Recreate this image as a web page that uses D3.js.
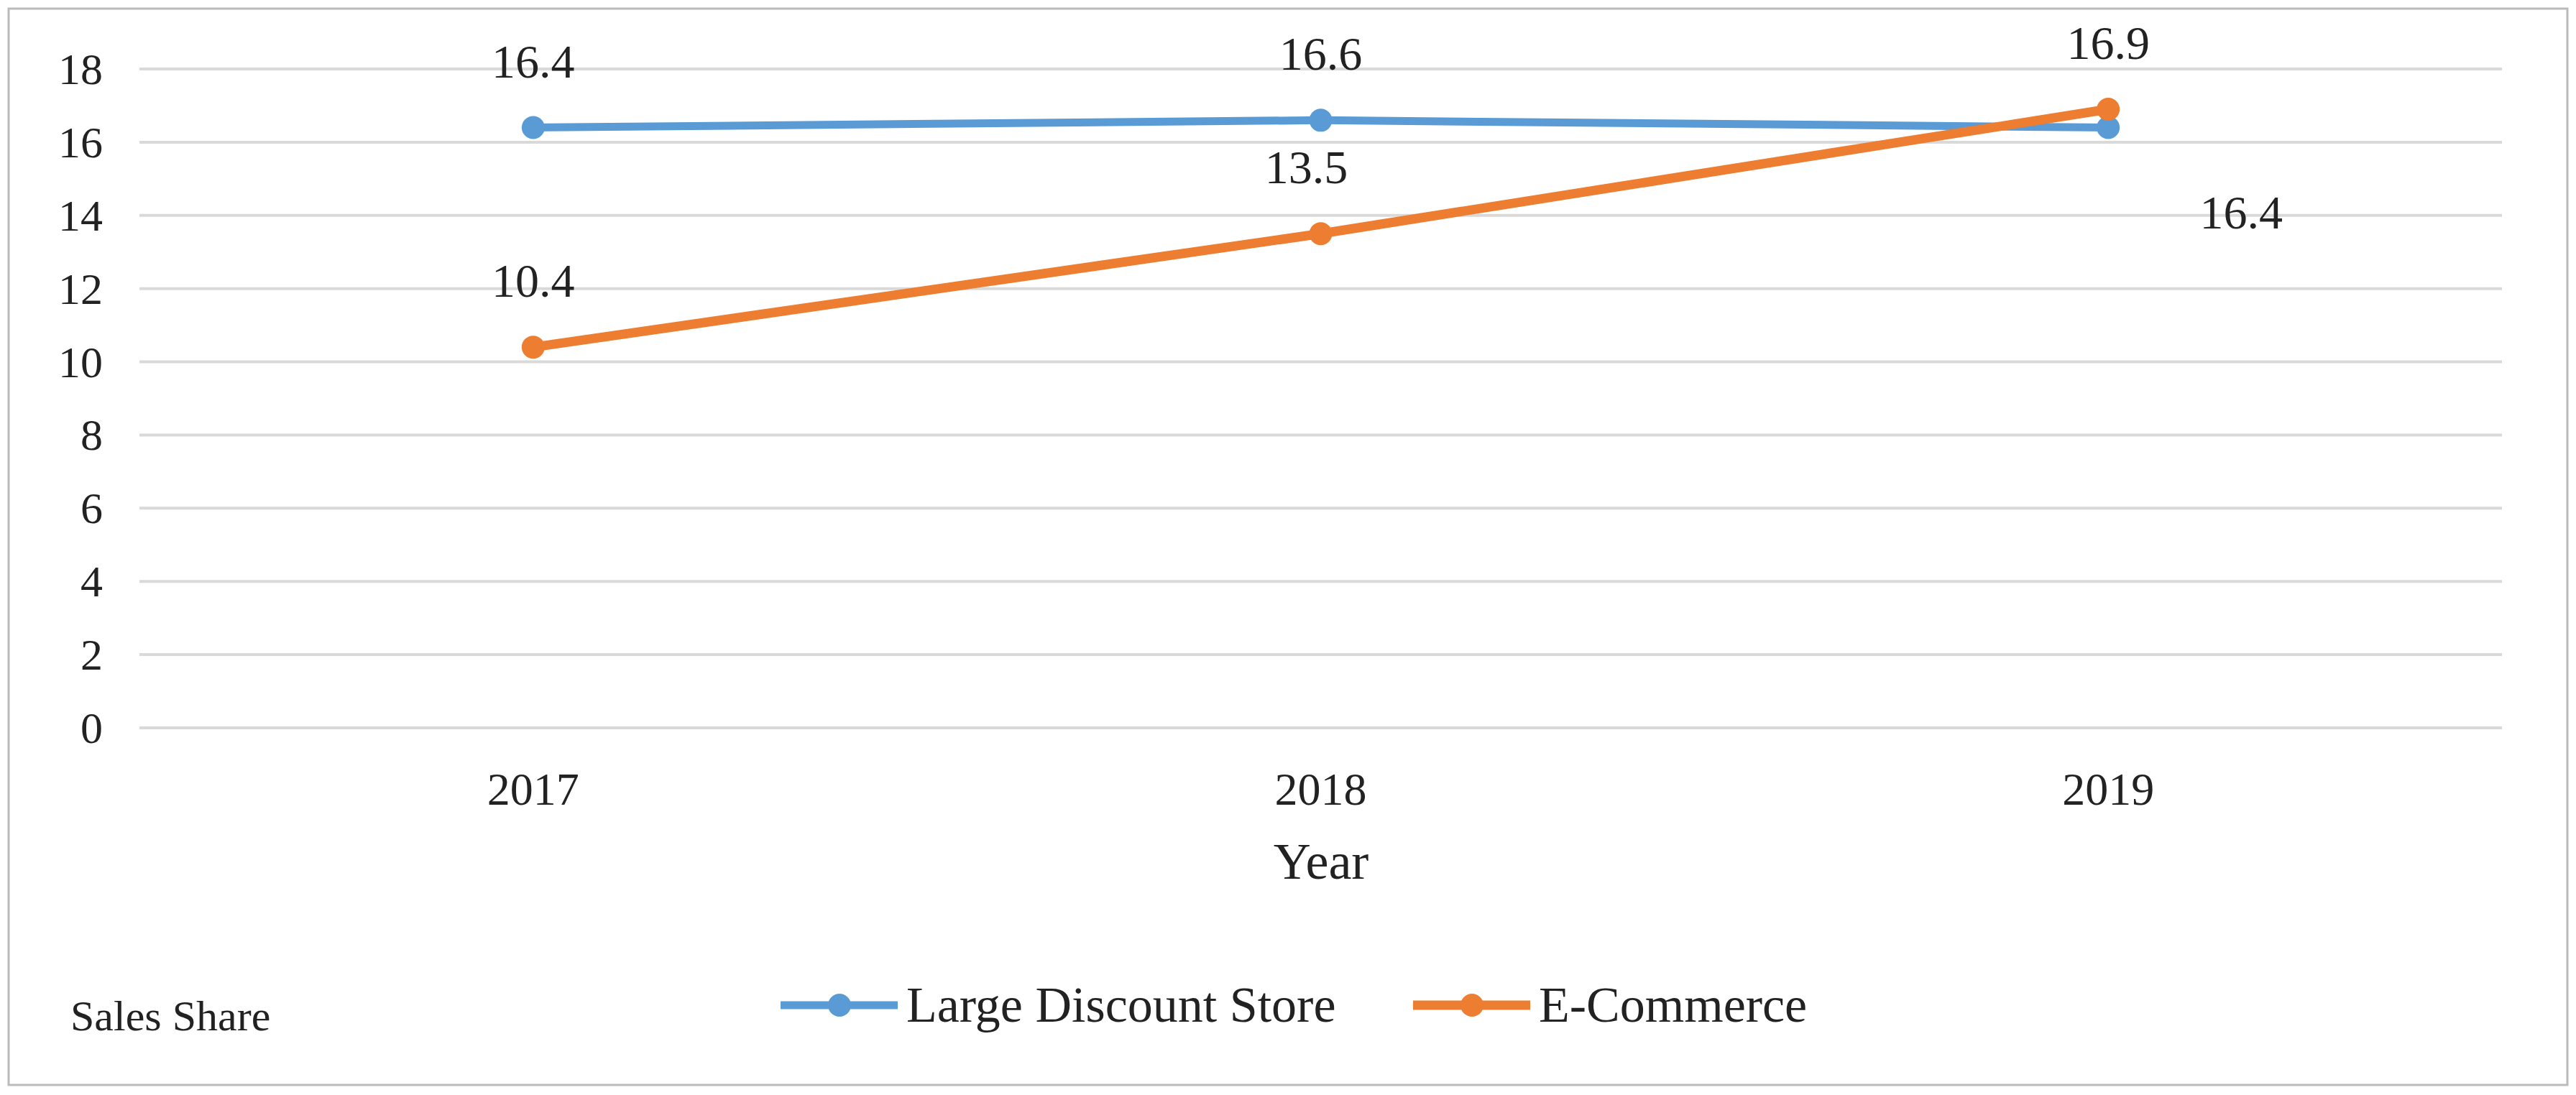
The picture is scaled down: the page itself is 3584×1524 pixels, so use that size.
<!DOCTYPE html>
<html><head><meta charset="utf-8">
<script src="https://cdn.jsdelivr.net/npm/d3@7"></script>
<style>body{margin:0;background:#fff}text{font-family:"Liberation Serif","Times New Roman",serif;fill:#222}</style>
</head><body>
<script>
const years = ["2017", "2018", "2019"];
const discount = [16.4, 16.6, 16.4];
const ecommerce = [10.4, 13.5, 16.9];
const yTicks = [0, 2, 4, 6, 8, 10, 12, 14, 16, 18];

const W = 3584, H = 1524;
const svg = d3.select("body").append("svg").attr("width", W).attr("height", H);

svg.append("rect").attr("x", 12).attr("y", 12).attr("width", W - 24).attr("height", H - 26)
    .attr("fill", "none").attr("stroke", "#bbb").attr("stroke-width", 3);

const x = d3.scaleBand().domain(years).range([194, 3481]);
const y = d3.scaleLinear().domain([0, 18]).range([1013, 96]);
const cx = d => x(d) + x.bandwidth() / 2;

// gridlines
svg.selectAll(".grid").data(yTicks).enter().append("line")
    .attr("x1", 194).attr("x2", 3481)
    .attr("y1", d => y(d)).attr("y2", d => y(d))
    .attr("stroke", "#d9d9d9").attr("stroke-width", 4);

svg.selectAll(".ytick").data(yTicks).enter().append("text")
    .text(d => d).attr("x", 143).attr("y", d => y(d) + 21)
    .attr("text-anchor", "end").attr("font-size", 62);

svg.selectAll(".xtick").data(years).enter().append("text")
    .text(d => d).attr("x", cx).attr("y", 1120)
    .attr("text-anchor", "middle").attr("font-size", 64);

svg.append("text").text("Year").attr("x", 1838).attr("y", 1223)
    .attr("text-anchor", "middle").attr("font-size", 72);

const series = [
    { name: "Large Discount Store", vals: discount, color: "#5B9BD5", w: 11 },
    { name: "E-Commerce", vals: ecommerce, color: "#ED7D31", w: 13 }
];
const line = d3.line().x((d, i) => cx(years[i])).y(d => y(d));

series.forEach(s => {
    svg.append("path").attr("d", line(s.vals)).attr("fill", "none")
        .attr("stroke", s.color).attr("stroke-width", s.w).attr("stroke-linejoin", "round");
    svg.selectAll(null).data(s.vals).enter().append("circle")
        .attr("cx", (d, i) => cx(years[i])).attr("cy", d => y(d)).attr("r", 16).attr("fill", s.color);
});

// data labels: [series values, index, dx, dy]
const labels = [
    [discount, 0, 0, -70], [discount, 1, 0, -70], [discount, 2, 185, 140],
    [ecommerce, 0, 0, -70], [ecommerce, 1, -20, -70], [ecommerce, 2, 0, -70]
];
labels.forEach(([vals, i, dx, dy]) => {
    svg.append("text").text(vals[i].toFixed(1))
        .attr("x", cx(years[i]) + dx).attr("y", y(vals[i]) + dy)
        .attr("text-anchor", "middle").attr("font-size", 66);
});

// legend
const legendX = [1086, 1966];
series.forEach((s, i) => {
    const lx = legendX[i], ly = 1399;
    svg.append("line").attr("x1", lx).attr("x2", lx + 163).attr("y1", ly).attr("y2", ly)
        .attr("stroke", s.color).attr("stroke-width", s.w);
    svg.append("circle").attr("cx", lx + 82).attr("cy", ly).attr("r", 16).attr("fill", s.color);
    svg.append("text").text(s.name).attr("x", lx + 175).attr("y", ly + 23).attr("font-size", 70);
});

svg.append("text").text("Sales Share").attr("x", 98).attr("y", 1434).attr("font-size", 60);
</script>
</body></html>
